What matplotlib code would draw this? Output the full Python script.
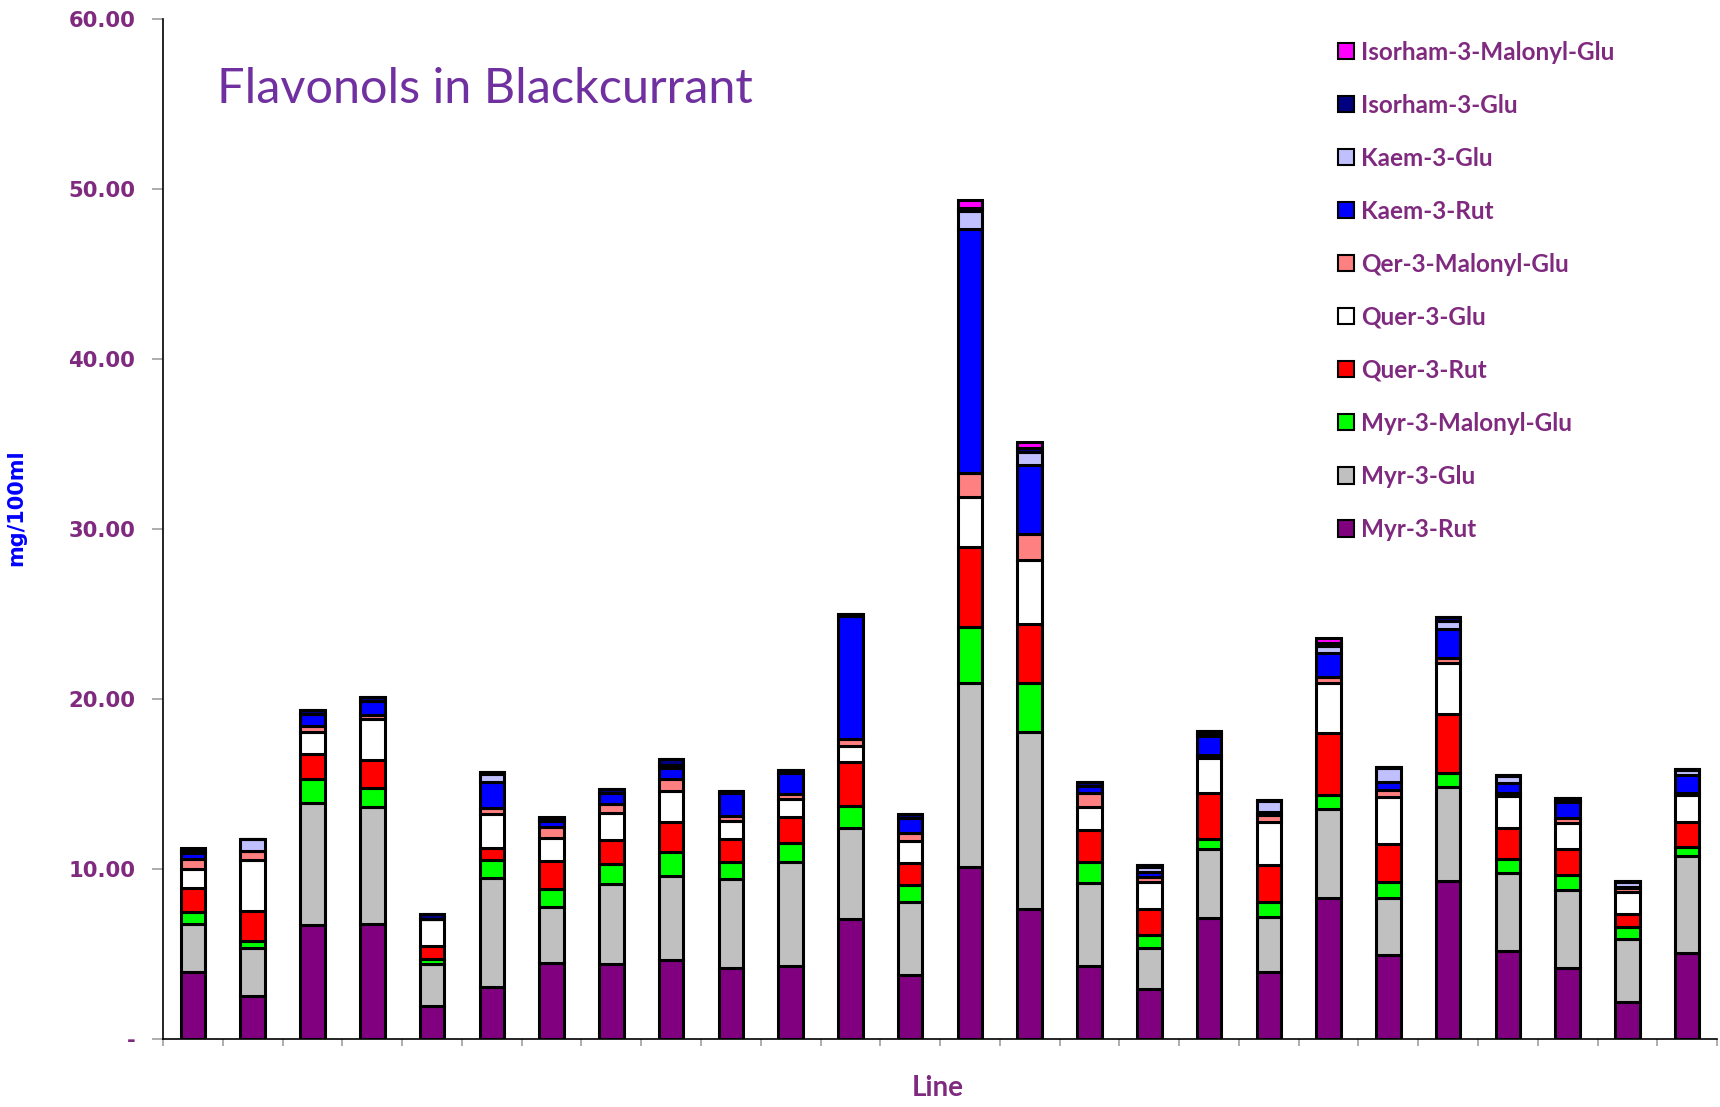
import numpy as np
import matplotlib
matplotlib.use('Agg')
import matplotlib.pyplot as plt
from matplotlib.patches import Patch

# one bar per line, 26 lines
n_lines = 26

myr_rut  = [3.92, 2.55, 6.72, 6.76, 1.96, 3.08, 4.45, 4.39, 4.65, 4.19, 4.29, 7.04, 3.76,
            10.14, 7.66, 4.31, 2.92, 7.14, 3.96, 8.27, 4.94, 9.29, 5.20, 4.16, 2.19, 5.04]
myr_glu  = [2.84, 2.78, 7.18, 6.91, 2.43, 6.37, 3.33, 4.71, 4.96, 5.22, 6.10, 5.35, 4.32,
            10.82, 10.42, 4.85, 2.45, 4.04, 3.24, 5.24, 3.33, 5.55, 4.55, 4.60, 3.69, 5.74]
myr_mal  = [0.69, 0.45, 1.37, 1.08, 0.32, 1.08, 1.02, 1.17, 1.37, 0.98, 1.16, 1.32, 0.98,
            3.26, 2.88, 1.27, 0.75, 0.58, 0.88, 0.84, 0.98, 0.79, 0.82, 0.89, 0.73, 0.53]
quer_rut = [1.45, 1.77, 1.49, 1.66, 0.76, 0.69, 1.69, 1.44, 1.77, 1.36, 1.49, 2.60, 1.27,
            4.74, 3.43, 1.86, 1.51, 2.69, 2.16, 3.67, 2.22, 3.47, 1.82, 1.51, 0.74, 1.44]
quer_glu = [1.12, 2.98, 1.32, 2.41, 1.57, 2.02, 1.31, 1.60, 1.84, 1.07, 1.08, 0.94, 1.34,
            2.94, 3.76, 1.38, 1.62, 2.06, 2.54, 2.90, 2.75, 3.04, 1.90, 1.53, 1.32, 1.60]
qer_mal  = [0.55, 0.55, 0.33, 0.24, 0.00, 0.37, 0.69, 0.51, 0.68, 0.30, 0.29, 0.38, 0.43,
            1.38, 1.53, 0.82, 0.30, 0.20, 0.40, 0.39, 0.43, 0.25, 0.20, 0.29, 0.19, 0.10]
kaem_rut = [0.39, 0.00, 0.73, 0.82, 0.00, 1.53, 0.33, 0.63, 0.69, 1.33, 1.22, 7.22, 0.92,
            14.37, 4.08, 0.39, 0.25, 1.10, 0.20, 1.38, 0.45, 1.71, 0.55, 0.94, 0.10, 1.10]
kaem_glu = [0.05, 0.68, 0.00, 0.00, 0.00, 0.45, 0.05, 0.00, 0.14, 0.00, 0.00, 0.00, 0.00,
            1.02, 0.76, 0.00, 0.34, 0.17, 0.63, 0.43, 0.82, 0.50, 0.45, 0.10, 0.30, 0.29]
isor_glu = [0.10, 0.02, 0.21, 0.22, 0.31, 0.12, 0.10, 0.26, 0.35, 0.16, 0.19, 0.15, 0.20,
            0.20, 0.25, 0.22, 0.10, 0.16, 0.05, 0.19, 0.05, 0.24, 0.05, 0.14, 0.05, 0.05]
isor_mal = [0.10, 0.00, 0.00, 0.00, 0.00, 0.00, 0.10, 0.00, 0.00, 0.00, 0.00, 0.00, 0.00,
            0.45, 0.34, 0.00, 0.00, 0.00, 0.00, 0.26, 0.00, 0.00, 0.00, 0.00, 0.00, 0.00]

series_names = ['Myr-3-Rut', 'Myr-3-Glu', 'Myr-3-Malonyl-Glu', 'Quer-3-Rut', 'Quer-3-Glu',
                'Qer-3-Malonyl-Glu', 'Kaem-3-Rut', 'Kaem-3-Glu', 'Isorham-3-Glu',
                'Isorham-3-Malonyl-Glu']
series_vals = [myr_rut, myr_glu, myr_mal, quer_rut, quer_glu, qer_mal, kaem_rut, kaem_glu,
               isor_glu, isor_mal]
colors = ['#800080', '#C0C0C0', '#00FF00', '#FF0000', '#FFFFFF', '#FF8080', '#0000FF',
          '#C0C0FF', '#000080', '#FF00FF']

yticks = [0, 10, 20, 30, 40, 50, 60]
ytick_labels = ['-', '10.00', '20.00', '30.00', '40.00', '50.00', '60.00']

label_col = '#7F2A7F'

fig = plt.figure(figsize=(17.2, 11.07), dpi=100)
ax = fig.add_axes([0.0948, 0.0614, 0.9035, 0.9216])

x = np.arange(n_lines)
bottom = np.zeros(n_lines)
for name, vals, c in zip(series_names, series_vals, colors):
    vals = np.array(vals)
    ax.bar(x, vals, width=0.41, bottom=bottom, color=c, edgecolor='black',
           linewidth=2.2, label=name)
    bottom += vals

ax.set_xlim(-0.5, n_lines - 0.5)
ax.set_ylim(0, 60)

ax.set_xticks(np.arange(n_lines + 1) - 0.5)
ax.set_xticklabels([])
ax.tick_params(axis='x', direction='out', length=5, color='#A0A0A0', width=1.2)

ax.set_yticks(yticks)
ax.set_yticklabels(ytick_labels, fontsize=15.2, fontweight='bold', color=label_col)
ax.tick_params(axis='y', direction='out', length=8, color='#A0A0A0', width=1.2, pad=12)

for s in ['top', 'right']:
    ax.spines[s].set_visible(False)
for s in ['left', 'bottom']:
    ax.spines[s].set_color('black')
    ax.spines[s].set_linewidth(1.2)

fig.text(0.0097, 0.541, 'mg/100ml', rotation=90, color='#0000FF', fontsize=15,
         fontweight='bold', family=['Liberation Sans Narrow', 'DejaVu Sans'],
         ha='center', va='center')
fig.text(0.545, 0.017, 'Line', color=label_col, fontsize=20, fontweight='bold',
         family='Lato', ha='center', va='center')
fig.text(0.126, 0.920, 'Flavonols in Blackcurrant', color='#7030A0', fontsize=35,
         family='Lato', ha='left', va='center')

handles = [Patch(facecolor=c, edgecolor='black', linewidth=1.5, label=n)
           for n, c in zip(series_names, colors)][::-1]
leg = fig.legend(handles=handles, loc='upper left', bbox_to_anchor=(0.772, 0.972),
                 frameon=False, prop={'family': 'Lato', 'weight': 'bold', 'size': 17.5},
                 handlelength=0.66, handleheight=0.66, handletextpad=0.3,
                 labelspacing=1.235, borderaxespad=0)
for t in leg.get_texts():
    t.set_color(label_col)

plt.savefig('out.png', dpi=100)
plt.close()
